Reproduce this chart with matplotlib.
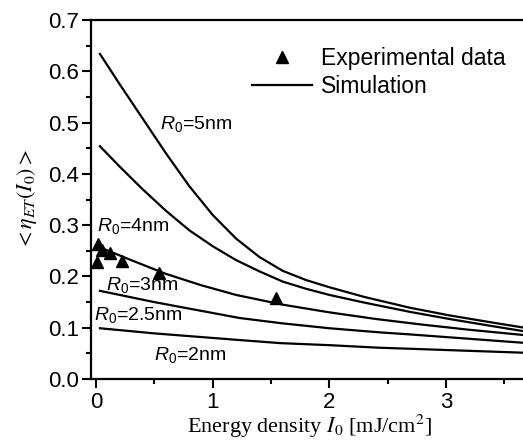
"""Mean energy-transfer efficiency vs. excitation energy density (R0 series)."""

import matplotlib
matplotlib.use("Agg")
import matplotlib.pyplot as plt

plt.rcParams["mathtext.fontset"] = "custom"
plt.rcParams["mathtext.rm"] = "Liberation Sans"
plt.rcParams["mathtext.it"] = "Liberation Sans:italic"
plt.rcParams["font.family"] = ["Liberation Sans", "DejaVu Sans"]

# experimental points
exp_x = [0.02, 0.01, 0.05, 0.12, 0.22, 0.54, 1.54]
exp_y = [0.263, 0.228, 0.251, 0.246, 0.230, 0.206, 0.158]

# simulation curves
sim_x = {
    "5": [0.034, 0.2, 0.4, 0.6, 0.8, 1.0, 1.2, 1.4, 1.6, 1.8, 2.0, 2.3, 2.69, 3.03, 3.4, 3.7],
    "4": [0.034, 0.2, 0.4, 0.6, 0.8, 1.0, 1.2, 1.4, 1.6, 1.8, 2.0, 2.3, 2.69, 3.03, 3.4, 3.7],
    "3": [0.02, 0.3, 0.6, 0.9, 1.2, 1.6, 2.0, 2.4, 2.8, 3.2, 3.7],
    "2.5": [0.034, 0.5, 1.23, 1.58, 2.0, 2.43, 2.69, 3.7],
    "2": [0.034, 0.5, 1.23, 1.58, 2.0, 2.43, 2.69, 3.7],
}
sim_y = {
    "5": [0.634, 0.576, 0.508, 0.440, 0.376, 0.320, 0.274, 0.238, 0.211, 0.193,
          0.179, 0.160, 0.139, 0.124, 0.110, 0.099],
    "4": [0.454, 0.415, 0.370, 0.328, 0.290, 0.259, 0.232, 0.210, 0.190, 0.176,
          0.164, 0.149, 0.131, 0.117, 0.103, 0.092],
    "3": [0.258, 0.232, 0.205, 0.183, 0.164, 0.145, 0.130, 0.117, 0.106, 0.096, 0.085],
    "2.5": [0.172, 0.150, 0.119, 0.109, 0.099, 0.091, 0.087, 0.070],
    "2": [0.099, 0.089, 0.076, 0.070, 0.066, 0.061, 0.059, 0.051],
}

# label positions for each curve (data coords)
label_pos = {
    "5": (0.55, 0.497),
    "4": (0.012, 0.298),
    "3": (0.085, 0.183),
    "2.5": (-0.015, 0.124),
    "2": (0.50, 0.046),
}

fig = plt.figure(figsize=(5.23, 4.42), dpi=100)
ax = fig.add_axes([0.1746, 0.1425, 0.8346, 0.812])

for key in sim_x:
    ax.plot(sim_x[key], sim_y[key], color="black", lw=1.6,
            label="Simulation" if key == "5" else None)
ax.plot(exp_x, exp_y, ls="none", marker="^", ms=8, color="black",
        label="Experimental data")

for key, (lx, ly) in label_pos.items():
    ax.text(lx, ly, r"$R_0$=%snm" % key, fontsize=14, ha="left", va="center")

ax.set_xlim(-0.04, 3.7)
ax.set_ylim(0.0, 0.7)
ax.set_xticks([0, 1, 2, 3])
ax.set_xticks([0.5, 1.5, 2.5, 3.5], minor=True)
ax.set_yticks([0.0, 0.1, 0.2, 0.3, 0.4, 0.5, 0.6, 0.7])
ax.set_yticks([0.05, 0.15, 0.25, 0.35, 0.45, 0.55, 0.65], minor=True)
ax.yaxis.set_major_formatter(plt.FormatStrFormatter("%.1f"))
ax.tick_params(which="major", direction="out", length=6.5, width=1.5,
               labelsize=16, pad=2.5)
ax.tick_params(which="minor", direction="out", length=3.6, width=1.5)
for sp in ax.spines.values():
    sp.set_linewidth(1.6)

ax.set_xlabel(r"Energy density $I_0$ [mJ/cm$^2$]", family="Liberation Serif",
              math_fontfamily="stix", fontsize=16, labelpad=0)
ax.set_ylabel(r"$<\eta_{ET}(I_0)>$", math_fontfamily="stix", fontsize=16,
              labelpad=6)

handles, labels = ax.get_legend_handles_labels()
ax.legend(handles[::-1], labels[::-1], loc="upper left",
          bbox_to_anchor=(0.368, 0.925), frameon=False, fontsize=16.5,
          handlelength=2.6, handletextpad=0.4, labelspacing=0.2,
          borderpad=0, borderaxespad=0)

fig.savefig("out.png", dpi=100)
